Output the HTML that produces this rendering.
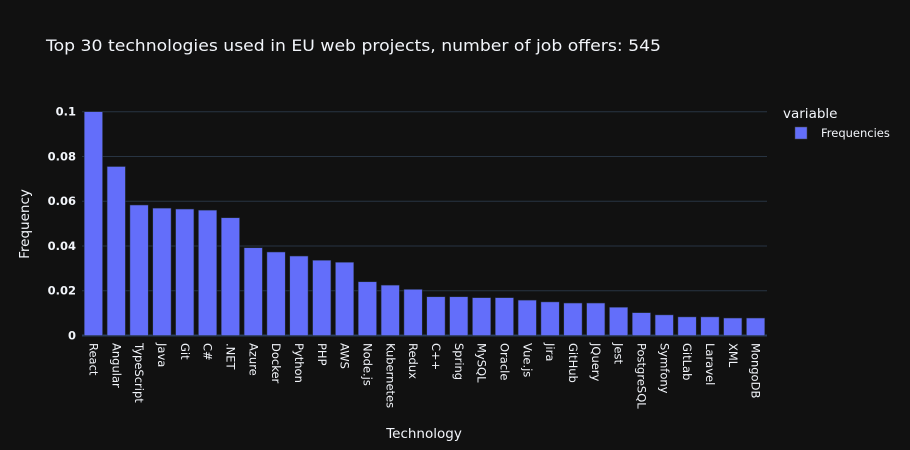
<!DOCTYPE html>
<html><head><meta charset="utf-8"><style>
body{margin:0;background:#111111;}
svg{display:block;font-family:"DejaVu Sans","Liberation Sans",sans-serif;}
</style></head><body>
<svg id="chart" width="910" height="450" xmlns="http://www.w3.org/2000/svg">
<rect width="910" height="450" fill="#111111"/>
<text x="46" y="51" fill="#f2f5fa" font-size="16" textLength="615" lengthAdjust="spacingAndGlyphs">Top 30 technologies used in EU web projects, number of job offers: 545</text>
<g id="grid"></g>
<g id="bars"></g>
<g id="xt"></g>
<g id="yt"></g>
<text transform="translate(29,224) rotate(-90)" text-anchor="middle" fill="#f2f5fa" font-size="13.5">Frequency</text>
<text x="424" y="438" text-anchor="middle" fill="#f2f5fa" font-size="13.5">Technology</text>
<g>
<text x="783" y="118" fill="#f2f5fa" font-size="13.5">variable</text>
<rect x="795" y="127" width="12" height="12" fill="#636efa" stroke="#444" stroke-width="0.5"/>
<text x="821" y="137" fill="#f2f5fa" font-size="11.5">Frequencies</text>
</g>
</svg>
<script>
const categories=["React","Angular","TypeScript","Java","Git","C#",".NET","Azure","Docker","Python","PHP","AWS","Node.js","Kubernetes","Redux","C++","Spring","MySQL","Oracle","Vue.js","Jira","GitHub","JQuery","Jest","PostgreSQL","Symfony","GitLab","Laravel","XML","MongoDB"];
const values=[0.1,0.0755,0.0583,0.0569,0.0565,0.056,0.0526,0.0392,0.0373,0.0355,0.0336,0.0327,0.024,0.0225,0.0206,0.0173,0.0173,0.0169,0.0169,0.0158,0.015,0.0145,0.0145,0.0126,0.0102,0.0092,0.0083,0.0083,0.0078,0.0078];
const yTicks=[0,0.02,0.04,0.06,0.08,0.1];
const yTickLabels=["0","0.02","0.04","0.06","0.08","0.1"];
const NS="http://www.w3.org/2000/svg";
const X0=82,X1=767,Y0=335.5,Ytop=111.7,YMAX=0.1;
const y=v=>Y0-(v/YMAX)*(Y0-Ytop);
const step=(X1-X0)/categories.length;
const xc=i=>X0+step*(i+0.5);
function mk(t,a,p){const e=document.createElementNS(NS,t);for(const k in a)e.setAttribute(k,a[k]);p.appendChild(e);return e;}
const grid=document.getElementById('grid'),yt=document.getElementById('yt');
yTicks.forEach((v,i)=>{
  const l=mk('line',{x1:X0,x2:X1,y1:y(v),y2:y(v),stroke:v===0?'#2a3f5f':'#283442','stroke-width':v===0?2:1},grid);
  
  
  const t=mk('text',{x:X0-6,y:y(v)+4,'text-anchor':'end',fill:'#f2f5fa','font-size':11.5,'font-weight':'bold'},yt);
  t.textContent=yTickLabels[i];
  
  
});
const bars=document.getElementById('bars'),xt=document.getElementById('xt');
const bw=step*0.8;
values.forEach((v,i)=>{
  const r=mk('rect',{x:xc(i)-bw/2,y:y(v),width:bw,height:Y0-y(v),fill:'#636efa',stroke:'#283442','stroke-width':0.5},bars);
  
  
  const t=mk('text',{transform:`translate(${xc(i)-4},343) rotate(90)`,fill:'#f2f5fa','font-size':11.5},xt);
  t.textContent=categories[i];
  
  
});
</script>
</body></html>
